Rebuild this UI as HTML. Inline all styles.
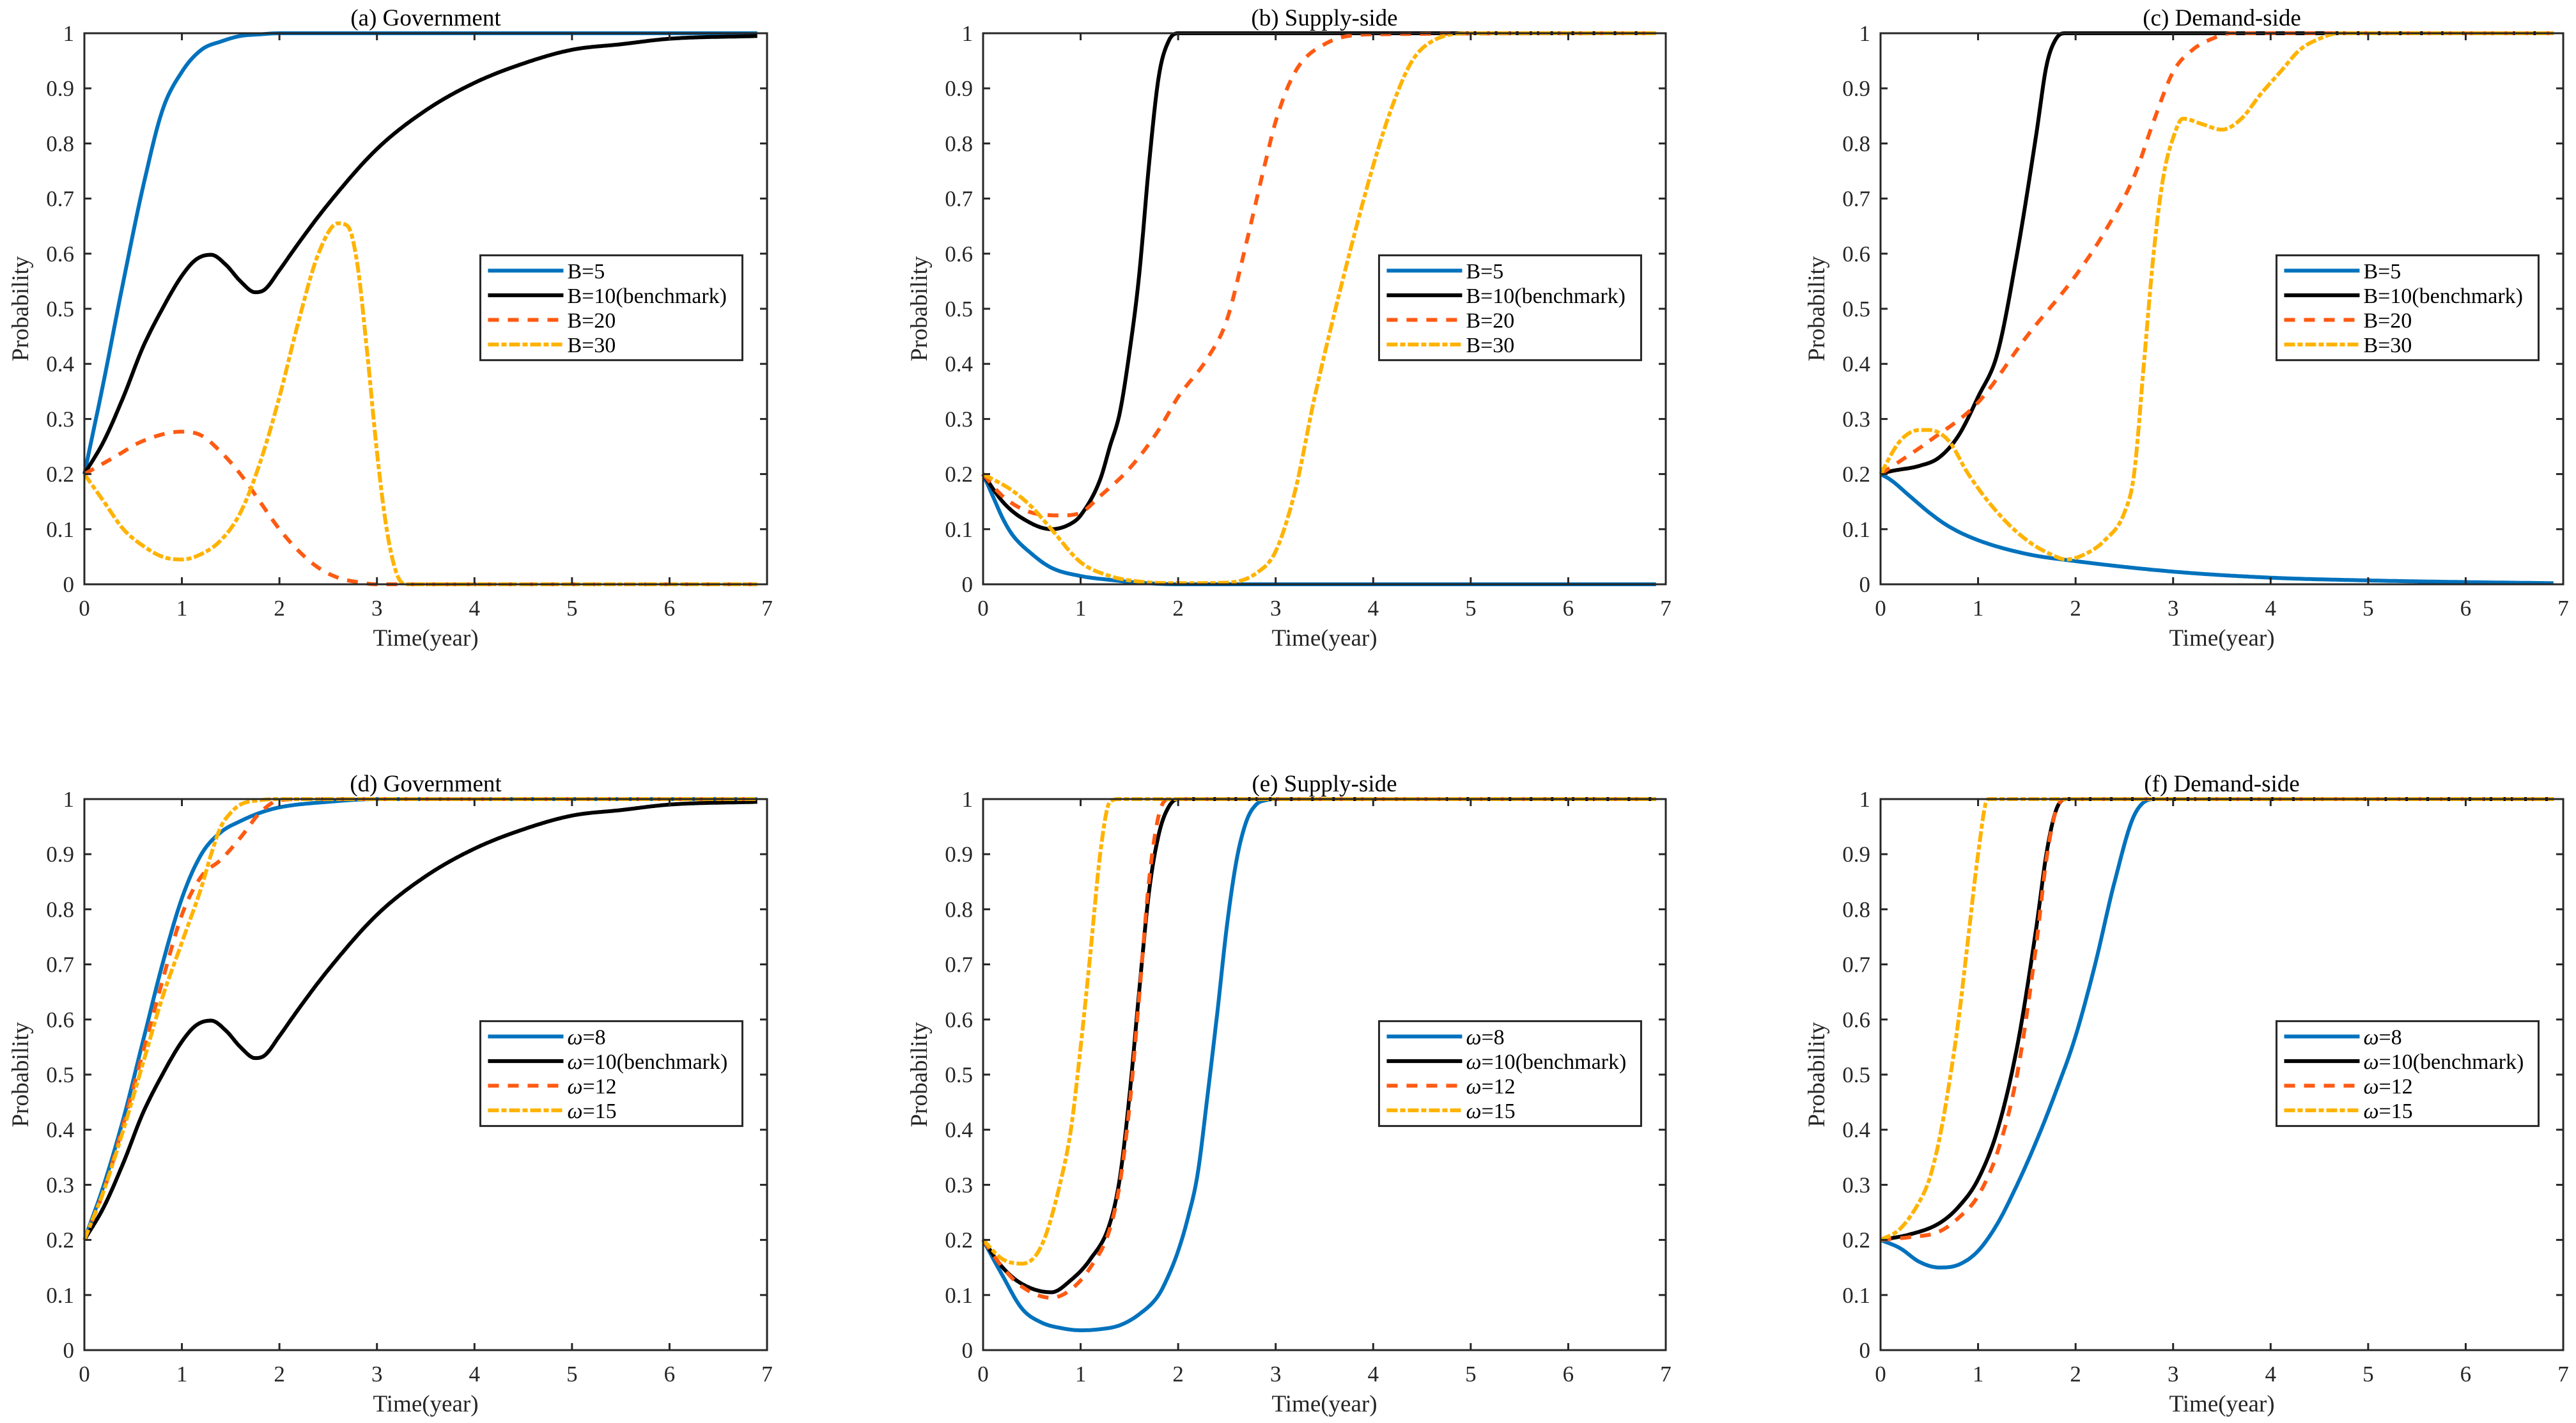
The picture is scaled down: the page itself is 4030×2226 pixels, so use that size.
<!DOCTYPE html>
<html><head><meta charset="utf-8"><style>
html,body{margin:0;padding:0;background:#fff;}
svg{display:block;font-family:"Liberation Serif",serif;}
</style></head>
<body>
<svg id="fig" width="4030" height="2226" viewBox="0 0 4030 2226" xmlns="http://www.w3.org/2000/svg"></svg>
<script>
// ---- data ----
const panelTitles = ["(a) Government","(b) Supply-side","(c) Demand-side","(d) Government","(e) Supply-side","(f) Demand-side"];
const xTicks = [0,1,2,3,4,5,6,7];
const yTicks = [0,0.1,0.2,0.3,0.4,0.5,0.6,0.7,0.8,0.9,1];
const yTickLabels = ["0","0.1","0.2","0.3","0.4","0.5","0.6","0.7","0.8","0.9","1"];
const legendB = ["B=5","B=10(benchmark)","B=20","B=30"];
const legendW = ["=8","=10(benchmark)","=12","=15"];

const aBlueT = [0,.2,.4,.6,.8,1,1.2,1.4,1.6,1.8,2,2.5,6.9];
const aBlueV = [.2,.37,.55,.72,.86,.93,.97,.985,.995,.998,1,1,1];
const aBlackT = [0,.2,.4,.6,.8,1,1.15,1.3,1.45,1.6,1.75,1.85,2,2.2,2.5,3,3.5,4,4.5,5,5.5,6,6.9];
const aBlackV = [.2,.26,.34,.43,.5,.56,.59,.598,.58,.55,.53,.535,.57,.62,.69,.79,.86,.91,.945,.97,.98,.99,.995];
const aOrangeT = [0,.3,.6,1,1.2,1.4,1.6,1.8,2,2.2,2.4,2.6,2.8,3,3.3,6.9];
const aOrangeV = [.2,.23,.26,.277,.27,.24,.2,.15,.1,.06,.03,.012,.004,0,0,0];
const aYellowT = [0,.2,.4,.6,.8,1,1.2,1.4,1.6,1.8,2,2.2,2.4,2.6,2.7,2.8,2.9,3,3.1,3.2,3.3,6.9];
const aYellowV = [.2,.15,.1,.07,.05,.045,.055,.08,.13,.22,.34,.48,.6,.655,.65,.58,.42,.24,.1,.02,0,0];

const bBlueT = [0,.1,.2,.3,.5,.7,1,1.3,1.6,2,6.9];
const bBlueV = [.2,.16,.12,.09,.055,.03,.015,.008,.003,0,0];
const bBlackT = [0,.2,.4,.7,.9,1,1.2,1.3,1.4,1.5,1.6,1.7,1.8,1.9,2,2.1,6.9];
const bBlackV = [.2,.15,.12,.1,.11,.125,.19,.25,.31,.42,.56,.76,.92,.985,1,1,1];
const bOrangeT = [0,.2,.5,.8,1,1.2,1.5,1.8,2,2.3,2.5,2.7,2.9,3,3.2,3.5,4,6.9];
const bOrangeV = [.2,.16,.13,.125,.13,.16,.21,.28,.34,.41,.48,.62,.77,.84,.93,.98,.998,1];
const bYellowT = [0,.3,.5,.7,1,1.3,1.6,2,2.5,2.8,3,3.2,3.4,3.6,3.8,4,4.2,4.4,4.6,5,6.9];
const bYellowV = [.2,.17,.14,.1,.04,.015,.005,.002,.003,.02,.06,.17,.34,.49,.63,.76,.87,.95,.985,1,1];

const cBlueT = [0,.1,.3,.5,.7,1,1.5,2,3,4,5,6,6.9];
const cBlueV = [.2,.19,.16,.13,.105,.08,.055,.042,.023,.012,.007,.004,.002];
const cBlackT = [0,.1,.4,.6,.8,1,1.2,1.4,1.6,1.7,1.8,1.9,2,6.9];
const cBlackV = [.2,.205,.215,.23,.27,.34,.42,.6,.82,.94,.99,1,1,1];
const cOrangeT = [0,.5,1,1.5,2,2.3,2.6,2.8,3,3.2,3.4,3.6,4,6.9];
const cOrangeV = [.2,.26,.33,.45,.56,.64,.74,.84,.93,.97,.99,1,1,1];
const cYellowT = [0,.2,.4,.5,.7,.9,1.2,1.5,1.8,1.9,2.1,2.3,2.5,2.6,2.7,2.8,2.9,3,3.1,3.3,3.5,3.7,3.9,4.1,4.3,4.5,4.7,6.9];
const cYellowV = [.2,.26,.28,.28,.26,.2,.13,.08,.05,.045,.055,.08,.13,.2,.4,.6,.74,.81,.845,.835,.825,.845,.89,.93,.97,.99,1,1];

const dBlueT = [0,.2,.4,.6,.8,1,1.2,1.4,1.6,1.8,2,2.5,3,6.9];
const dBlueV = [.2,.3,.42,.56,.7,.82,.9,.94,.96,.975,.985,.995,1,1];
const dBlackT = aBlackT;
const dBlackV = [.2,.26,.34,.43,.5,.56,.59,.598,.58,.55,.53,.535,.57,.62,.69,.79,.86,.91,.945,.97,.98,.99,.995];
const dOrangeT = [0,.2,.4,.6,.8,1,1.2,1.4,1.6,1.8,2,2.3,6.9];
const dOrangeV = [.2,.29,.41,.54,.67,.79,.86,.89,.93,.975,.998,1,1];
const dYellowT = [0,.2,.4,.6,.8,1,1.2,1.3,1.4,1.5,1.6,1.8,2,6.9];
const dYellowV = [.2,.29,.4,.52,.64,.74,.84,.9,.95,.975,.99,.998,1,1];

const eBlueT = [0,.2,.4,.6,.8,1,1.2,1.4,1.6,1.8,1.9,2,2.1,2.2,2.3,2.4,2.5,2.6,2.7,2.8,2.9,3,6.9];
const eBlueV = [.2,.135,.075,.05,.04,.036,.038,.045,.065,.1,.135,.18,.24,.32,.46,.61,.77,.89,.96,.99,.998,1,1];
const eBlackT = [0,.2,.4,.7,.9,1.1,1.3,1.4,1.5,1.6,1.7,1.8,1.9,2,6.9];
const eBlackV = [.2,.15,.12,.105,.127,.165,.23,.31,.46,.65,.83,.935,.985,1,1];
const eOrangeT = [0,.2,.4,.7,.9,1.1,1.3,1.4,1.5,1.6,1.7,1.8,1.9,2,6.9];
const eOrangeV = [.2,.15,.115,.095,.11,.15,.22,.3,.44,.64,.85,.97,1,1,1];
const eYellowT = [0,.2,.4,.6,.8,.9,1,1.1,1.2,1.3,1.4,6.9];
const eYellowV = [.2,.165,.157,.19,.31,.4,.55,.72,.9,.995,1,1];

const fBlueT = [0,.2,.4,.6,.8,1,1.2,1.4,1.6,1.8,2,2.2,2.4,2.6,2.8,6.9];
const fBlueV = [.2,.185,.16,.15,.155,.18,.23,.3,.38,.47,.57,.7,.85,.97,1,1];
const fBlackT = [0,.3,.6,.8,1,1.2,1.4,1.6,1.7,1.8,1.9,6.9];
const fBlackV = [.2,.21,.23,.26,.31,.4,.55,.77,.9,.98,1,1];
const fOrangeT = [0,.3,.6,.8,1,1.2,1.4,1.6,1.7,1.8,1.9,6.9];
const fOrangeV = [.2,.205,.215,.24,.28,.36,.5,.74,.89,.98,1,1];
const fYellowT = [0,.2,.4,.5,.6,.7,.8,.9,1,1.1,6.9];
const fYellowV = [.2,.22,.27,.31,.38,.48,.6,.75,.9,1,1];

const panelSeries = [
  [[aBlueT,aBlueV],[aBlackT,aBlackV],[aOrangeT,aOrangeV],[aYellowT,aYellowV]],
  [[bBlueT,bBlueV],[bBlackT,bBlackV],[bOrangeT,bOrangeV],[bYellowT,bYellowV]],
  [[cBlueT,cBlueV],[cBlackT,cBlackV],[cOrangeT,cOrangeV],[cYellowT,cYellowV]],
  [[dBlueT,dBlueV],[dBlackT,dBlackV],[dOrangeT,dOrangeV],[dYellowT,dYellowV]],
  [[eBlueT,eBlueV],[eBlackT,eBlackV],[eOrangeT,eOrangeV],[eYellowT,eYellowV]],
  [[fBlueT,fBlueV],[fBlackT,fBlackV],[fOrangeT,fOrangeV],[fYellowT,fYellowV]]
];
const seriesNames = ["series-low","series-benchmark","series-mid","series-high"];

// ---- styles ----
const colors = ["#0072BD","#000000","#FF5A12","#FFB300"];
const dashes = ["none","none","17,14","17,4,8,4"];
const NS = "http://www.w3.org/2000/svg";
const svg = document.getElementById("fig");
const colX = [132, 1538, 2942];
const rowY = [52, 1250];
const AW = 1068, AH = 862;

function el(tag, attrs, parent){
  const e = document.createElementNS(NS, tag);
  for (const k in attrs) e.setAttribute(k, attrs[k]);
  (parent||svg).appendChild(e);
  return e;
}
function monotone(xs, ys){
  const n = xs.length, d = [], m = new Array(n);
  for (let i=0;i<n-1;i++) d.push((ys[i+1]-ys[i])/(xs[i+1]-xs[i]));
  m[0]=d[0]; m[n-1]=d[n-2];
  for (let i=1;i<n-1;i++){ m[i] = (d[i-1]*d[i]<=0)?0:(d[i-1]+d[i])/2; }
  for (let i=0;i<n-1;i++){
    if (d[i]===0){ m[i]=0; m[i+1]=0; continue; }
    const a=m[i]/d[i], b=m[i+1]/d[i], s=a*a+b*b;
    if (s>9){ const t=3/Math.sqrt(s); m[i]=t*a*d[i]; m[i+1]=t*b*d[i]; }
  }
  return function(x){
    let i=0; while(i<n-2 && x>xs[i+1]) i++;
    const h=xs[i+1]-xs[i], t=(x-xs[i])/h;
    const h00=2*t*t*t-3*t*t+1, h10=t*t*t-2*t*t+t, h01=-2*t*t*t+3*t*t, h11=t*t*t-t*t;
    return h00*ys[i]+h10*h*m[i]+h01*ys[i+1]+h11*h*m[i+1];
  };
}

panelTitles.forEach((title, p) => {
  const L = colX[p%3], T = rowY[Math.floor(p/3)];
  const sx = v => L + v/7*AW;
  const sy = v => T + AH - v*AH;
  const g = el("g", {});
  
  

  const sg = el("g", {}, g);
  
  
  panelSeries[p].forEach((s, k) => {
    const f = monotone(s[0], s[1]);
    const t0 = s[0][0], t1 = s[0][s[0].length-1];
    let d = "";
    const N = 500;
    for (let i=0;i<=N;i++){
      const t = t0 + (t1-t0)*i/N;
      let v = f(t); v = Math.max(0, Math.min(1, v));
      d += (i?"L":"M") + sx(t).toFixed(1) + "," + sy(v).toFixed(1);
    }
    const path = el("path", {d:d, fill:"none", stroke:colors[k], "stroke-width":6, "stroke-linejoin":"round"}, sg);
    if (dashes[k] !== "none") path.setAttribute("stroke-dasharray", dashes[k]);
    
    
  });

  const box = el("rect", {x:L, y:T, width:AW, height:AH, fill:"none", stroke:"#262626", "stroke-width":3}, g);
  
  

  xTicks.forEach(v => {
    const x = sx(v);
    el("line", {x1:x, y1:T+AH, x2:x, y2:T+AH-11, stroke:"#262626", "stroke-width":3}, g);
    el("line", {x1:x, y1:T, x2:x, y2:T+11, stroke:"#262626", "stroke-width":3}, g);
    const tx = el("text", {x:x, y:T+AH+49, "font-size":35, "text-anchor":"middle", fill:"#262626"}, g);
    tx.textContent = String(v);
    
    
  });
  yTicks.forEach((v, i) => {
    const y = sy(v);
    el("line", {x1:L, y1:y, x2:L+11, y2:y, stroke:"#262626", "stroke-width":3}, g);
    el("line", {x1:L+AW, y1:y, x2:L+AW-11, y2:y, stroke:"#262626", "stroke-width":3}, g);
    const ty = el("text", {x:L-16, y:y+12, "font-size":35, "text-anchor":"end", fill:"#262626"}, g);
    ty.textContent = yTickLabels[i];
    
    
  });

  const xt = el("text", {x:L+AW/2, y:T+AH+96, "font-size":37, "text-anchor":"middle", fill:"#262626"}, g);
  xt.textContent = "Time(year)";
  
  

  const yt = el("text", {x:0, y:0, "font-size":37, "text-anchor":"middle", fill:"#262626",
    transform:"translate("+(L-88)+","+(T+AH/2)+") rotate(-90)"}, g);
  yt.textContent = "Probability";
  
  

  const tt = el("text", {x:L+AW/2, y:T-12, "font-size":37, "text-anchor":"middle", fill:"#000"}, g);
  tt.textContent = title;
  
  

  const lg = el("g", {}, g);
  
  
  const lx = sx(4.06), ly = sy(0.597);
  el("rect", {x:lx, y:ly, width:410, height:164, fill:"#fff", stroke:"#262626", "stroke-width":3}, lg);
  const labels = p < 3 ? legendB : legendW;
  labels.forEach((lab, k) => {
    const yy = ly + 24 + k*38.5;
    const ln = el("line", {x1:lx+12, y1:yy, x2:lx+130, y2:yy, stroke:colors[k], "stroke-width":6}, lg);
    if (dashes[k] !== "none") ln.setAttribute("stroke-dasharray", dashes[k]);
    
    
    const txt = el("text", {x:lx+136, y:yy+12, "font-size":34, fill:"#000"}, lg);
    
    
    if (p < 3) { txt.textContent = lab; }
    else {
      const w = el("tspan", {"font-style":"italic"}, txt); w.textContent = "ω";
      const r = el("tspan", {}, txt); r.textContent = lab;
    }
  });
});
</script>
</body></html>
